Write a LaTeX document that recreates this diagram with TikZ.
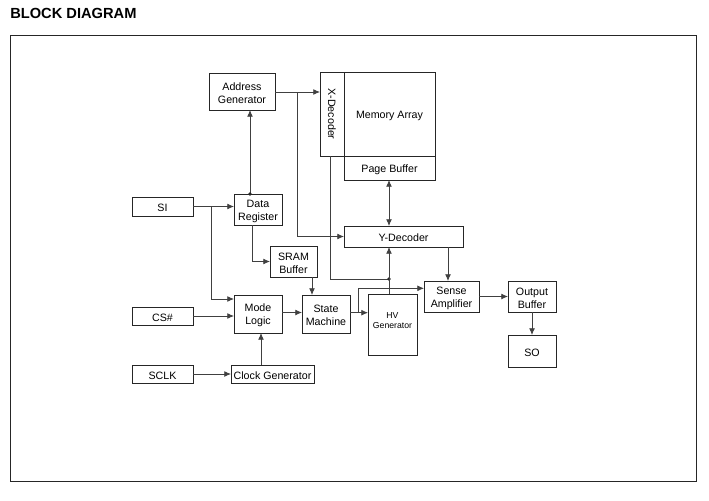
\documentclass[tikz,border=0pt]{standalone}
\usepackage{fontspec}
\setmainfont{Liberation Sans}
\usetikzlibrary{arrows.meta}
\newcommand{\blk}[6]{\node[blk, minimum width={(#4-#2)*0.75pt}, minimum height={(#5-#3)*0.75pt}, label={[lbl]center:{#6}}] (#1) at ({(#2+#4)/2},{(#3+#5)/2}) {};}
\begin{document}
\begin{tikzpicture}[x=0.75pt,y=-0.75pt,
  blk/.style={draw=black!85, line width=0.6pt, inner sep=0pt, outer sep=0pt},
  lbl/.style={align=center, inner sep=0pt, yshift=-1.1pt, font=\fontsize{8}{9.8}\selectfont},
  con/.style={draw=black!75, line width=0.6pt},
  arr/.style={con, -{Latex[length=5pt,width=4.4pt]}},
  arrb/.style={con, {Latex[length=5pt,width=4.4pt]}-{Latex[length=5pt,width=4.4pt]}},
  dotc/.style={fill=black!85}]
\useasboundingbox (0,0) rectangle (709,500);
\node[anchor=west, inner sep=0pt, font=\fontsize{11}{13}\selectfont\bfseries] (title) at (10,13) {BLOCK DIAGRAM};
\draw[line width=0.7pt, draw=black!85] (10,35) rectangle (696,481);
% blocks
\blk{addr}{209}{73}{275}{110}{Address\\Generator}
\blk{xdec}{320}{72}{344}{156}{}
\node[rotate=-90, font=\fontsize{8}{9.6}\selectfont] (xdectxt) at (xdec.center) {X-Decoder};
\blk{mem}{344}{72}{435}{156}{Memory Array}
\blk{pb}{344}{156}{435}{180}{Page Buffer}
\blk{dreg}{234}{194}{282}{225}{Data\\Register}
\blk{si}{132}{197}{193}{216}{SI}
\blk{sram}{270}{246}{317}{277}{SRAM\\Buffer}
\blk{mode}{234}{295}{282}{333}{Mode\\Logic}
\blk{sm}{302}{295}{350}{333}{State\\Machine}
\blk{cs}{132}{307}{193}{325}{CS\#}
\blk{sclk}{132}{365}{193}{383}{SCLK}
\blk{clk}{231}{365}{314}{383}{Clock Generator}
\blk{ydec}{344}{226}{463}{247}{Y-Decoder}
\blk{hv}{368}{294}{417}{355}{}
\node[align=center, font=\fontsize{6.5}{8}\selectfont] (hvtxt) at (392.5,320.5) {HV\\Generator};
\blk{sa}{424}{281}{479}{312}{Sense\\Amplifier}
\blk{ob}{508}{281}{556}{312}{Output\\Buffer}
\blk{so}{508}{335}{556}{367}{SO}
% junctions
\coordinate (j1) at (297,92);
\coordinate (j2) at (389,279);
\coordinate (j3) at (211,206.5);
\coordinate (j4) at (358.3,312.7);
% connectors
\draw[arr] (addr.east |- 0,92) -- (xdec.west |- 0,92);
\draw[arr] (j1) |- (ydec.west);
\draw[con] (xdec.south -| 330.7,0) |- (j2);
\fill[dotc] (j2) circle (1.8);
\draw[arr] (hv.north -| j2) -- (ydec.south -| j2);
\draw[arrb] (pb.south -| j2) -- (ydec.north -| j2);
\draw[arr] (dreg.north -| 250,0) -- (addr.south -| 250,0);
\fill[dotc] (dreg.north -| 250,0) circle (1.8);
\draw[arr] (si.east) -- (si.east -| dreg.west);
\draw[arr] (j3) |- (mode.west |- 0,299);
\draw[arr] (cs.east) -- (cs.east -| mode.west);
\draw[arr] (mode.east |- 0,312.5) -- (sm.west |- 0,312.5);
\draw[arr] (sclk.east) -- (clk.west);
\draw[arr] (clk.north -| 261,0) -- (mode.south -| 261,0);
\draw[arr] (dreg.south -| 252,0) |- (sram.west);
\draw[arr] (sram.south -| 312,0) -- (sm.north -| 312,0);
\draw[arr] (sm.east |- j4) -- (hv.west |- j4);
\draw[arr] (j4) |- (sa.west |- 0,288.3);
\draw[arr] (ydec.south -| 448,0) -- (sa.north -| 448,0);
\draw[arr] (sa.east) -- (ob.west);
\draw[arr] (ob.south) -- (so.north);
\end{tikzpicture}
\end{document}
